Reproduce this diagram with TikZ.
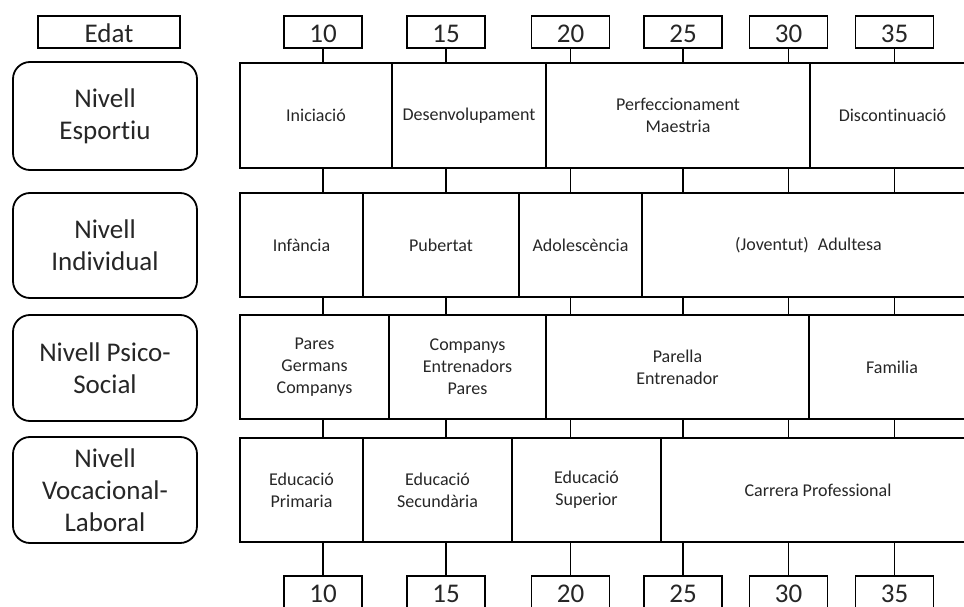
\documentclass[tikz,border=0pt]{standalone}
\usepackage{fontspec}
\setmainfont{Carlito}[Ligatures=NoCommon]
\begin{document}
\begin{tikzpicture}[x=1pt,y=-1pt,
  agebox/.style={draw, line width=1.8pt, minimum width=78pt, minimum height=32pt,
    inner sep=0pt, text height=21pt, text depth=0pt,
    font=\fontsize{27}{33}\selectfont, text=black!85},
  levelbox/.style={draw, line width=1.8pt, rounded corners=17pt, minimum width=184pt,
    inner sep=0pt, align=center, font=\fontsize{27}{32}\selectfont, text=black!85},
  band/.style={draw, line width=2pt, inner sep=0pt, minimum width=735pt},
  cell/.style={inner sep=0pt, outer sep=0pt, align=center,
    font=\fontsize{18}{22}\selectfont, text=black!85},
  divider/.style={line width=1.4pt},
  tick/.style={line width=1.3pt}]

\useasboundingbox (0,0) rectangle (964,607);
\clip (0,0) rectangle (964,607);

% header and footer age boxes
\node[agebox, minimum width=142pt] (edat) at (109,32) {Edat};
\foreach \a/\x in {10/323,15/446,20/570.5,25/683,30/788.5,35/894.5}{
  \node[agebox] (t\a) at (\x,32) {\a};
  \node[agebox] (b\a) at (\x,592) {\a};
}

% level labels
\node[levelbox, minimum height=108pt] (l1) at (105,116) {Nivell\\Esportiu};
\node[levelbox, minimum height=105pt] (l2) at (105,245.5) {Nivell\\Individual};
\node[levelbox, minimum height=106pt] (l3) at (105,368) {Nivell Psico-\\Social};
\node[levelbox, minimum height=106pt] (l4) at (105,490) {Nivell\\Vocacional-\\Laboral};

% row frames
\node[band, minimum height=105pt] (r1) at (607.5,115.5) {};
\node[band, minimum height=104pt] (r2) at (607.5,245) {};
\node[band, minimum height=104pt] (r3) at (607.5,367) {};
\node[band, minimum height=104pt] (r4) at (607.5,490) {};

% connectors between ages and rows
\foreach \a in {10,15,20,25,30,35}{
  \draw[tick] (t\a.south) -- (t\a.south |- r1.north);
  \draw[tick] (t\a |- r1.south) -- (t\a |- r2.north);
  \draw[tick] (t\a |- r2.south) -- (t\a |- r3.north);
  \draw[tick] (t\a |- r3.south) -- (t\a |- r4.north);
  \draw[tick] (t\a |- r4.south) -- (b\a.north);
}

% row 1: sporting level
\node[cell, minimum width=152pt, minimum height=105pt] (c11) at (316,115.5) {Iniciació};
\node[cell, minimum width=154pt, minimum height=105pt] (c12) at (469,115.5) {Desenvolupament};
\node[cell, minimum width=264pt, minimum height=105pt] (c13) at (678,115.5) {Perfeccionament\\Maestria};
\node[cell, minimum width=165pt, minimum height=105pt] (c14) at (892.5,115.5) {Discontinuació};

% row 2: individual level
\node[cell, minimum width=123pt, minimum height=104pt] (c21) at (301.5,245) {Infància};
\node[cell, minimum width=156pt, minimum height=104pt] (c22) at (441,245) {Pubertat};
\node[cell, minimum width=123pt, minimum height=104pt] (c23) at (580.5,245) {Adolescència};
\node[cell, minimum width=333pt, minimum height=104pt] (c24) at (808.5,245) {(Joventut)\enspace Adultesa};

% row 3: psycho-social level
\node[cell, minimum width=149pt, minimum height=104pt] (c31) at (314.5,367) {Pares\\Germans\\Companys};
\node[cell, minimum width=157pt, minimum height=104pt] (c32) at (467.5,367) {Companys\\Entrenadors\\Pares};
\node[cell, minimum width=263pt, minimum height=104pt] (c33) at (677.5,367) {Parella\\Entrenador};
\node[cell, minimum width=166pt, minimum height=104pt] (c34) at (892,367) {Familia};

% row 4: vocational level
\node[cell, minimum width=123pt, minimum height=104pt] (c41) at (301.5,490) {Educació\\Primaria};
\node[cell, minimum width=149pt, minimum height=104pt] (c42) at (437.5,490) {Educació\\Secundària};
\node[cell, minimum width=149pt, minimum height=104pt] (c43) at (586.5,490) {Educació\\Superior};
\node[cell, minimum width=314pt, minimum height=104pt] (c44) at (818,490) {Carrera Professional};

% cell dividers
\foreach \r in {1,2,3,4}{
  \foreach \c in {2,3,4}{
    \draw[divider] (c\r\c.north west) -- (c\r\c.south west);
  }
}
\end{tikzpicture}
\end{document}
